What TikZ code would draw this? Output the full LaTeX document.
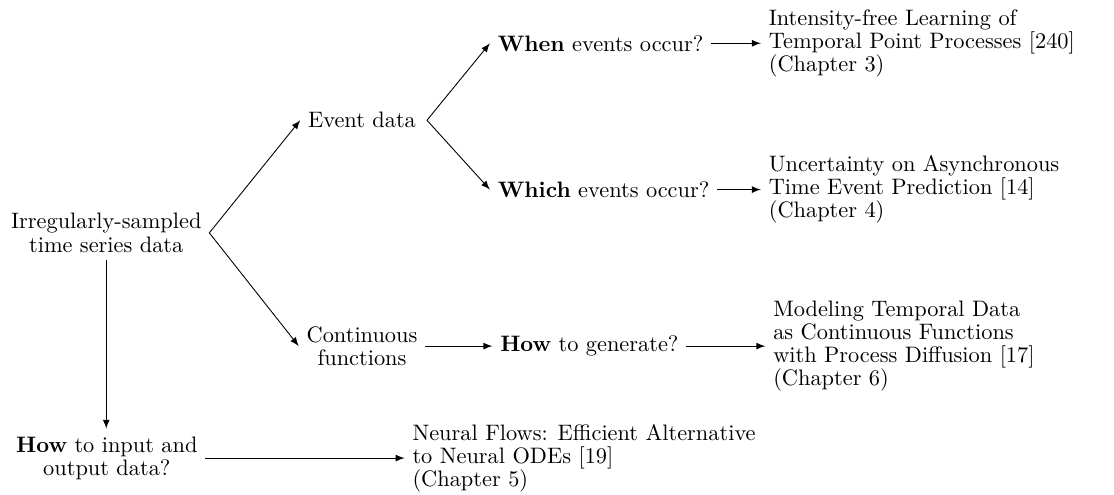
\documentclass[tikz,border=0pt]{standalone}
\usepackage{tikz}
\usetikzlibrary{calc,arrows}

\tikzset{
	item/.style={inner sep=0.3333em, align=center, font=\fontsize{10pt}{10.3pt}\selectfont},
	cite/.style={inner sep=0.3333em, align=left, anchor=west, font=\fontsize{10pt}{10.3pt}\selectfont},
	arr/.style={-latex, line width=0.4pt}
}

\begin{document}
\begin{tikzpicture}
		%%%%% START %%%%%
		\useasboundingbox (0, 0) rectangle (17.51, -7.78);
		
		\node[item] (root) at (1.67, -3.66) {Irregularly-sampled\\time series data};
		
		\node[item] (event) at (5.69, -1.89) {Event data};
		\node[item] (cont) at (5.69, -5.44) {Continuous\\functions};
		
		\node[cite] (when) at (7.70, -0.68) {\textbf{When} events occur?};
		\node[cite] (which) at (7.70, -2.98) {\textbf{Which} events occur?};
		\node[cite] (gen) at (7.74, -5.44) {\textbf{How} to generate?};
		
		\node[cite] (ifl) at (11.96, -0.68) {Intensity-free Learning of\\Temporal Point Processes [240]\\(Chapter 3)};
		\node[cite] (unc) at (11.96, -2.98) {Uncertainty on Asynchronous\\Time Event Prediction [14]\\(Chapter 4)};
		\node[cite] (mod) at (12.03, -5.44) {Modeling Temporal Data\\as Continuous Functions\\with Process Diffusion [17]\\(Chapter 6)};
		
		\node[item] (howio) at (1.68, -7.20) {\textbf{How} to input and\\output data?};
		\node[cite] (nf) at (6.36, -7.20) {Neural Flows: Efficient Alternative\\to Neural ODEs [19]\\(Chapter 5)};
		
		\draw[arr] (root.east) -- (event.west);
		\draw[arr] (root.east) -- (cont.west);
		\draw[arr] (root.south) -- (root.south |- howio.north);
		
		\draw[arr] ([xshift=0.05cm]event.east) -- (when.west);
		\draw[arr] ([xshift=0.05cm]event.east) -- (which.west);
		\draw[arr] (cont.east) -- (gen.west);
		
		\draw[arr] (when.east) -- (ifl.west);
		\draw[arr] (which.east) -- (unc.west);
		\draw[arr] (gen.east) -- (mod.west);
		\draw[arr] (howio.east) -- (nf.west);
		%%%%% END %%%%%
	\end{tikzpicture}
\end{document}
